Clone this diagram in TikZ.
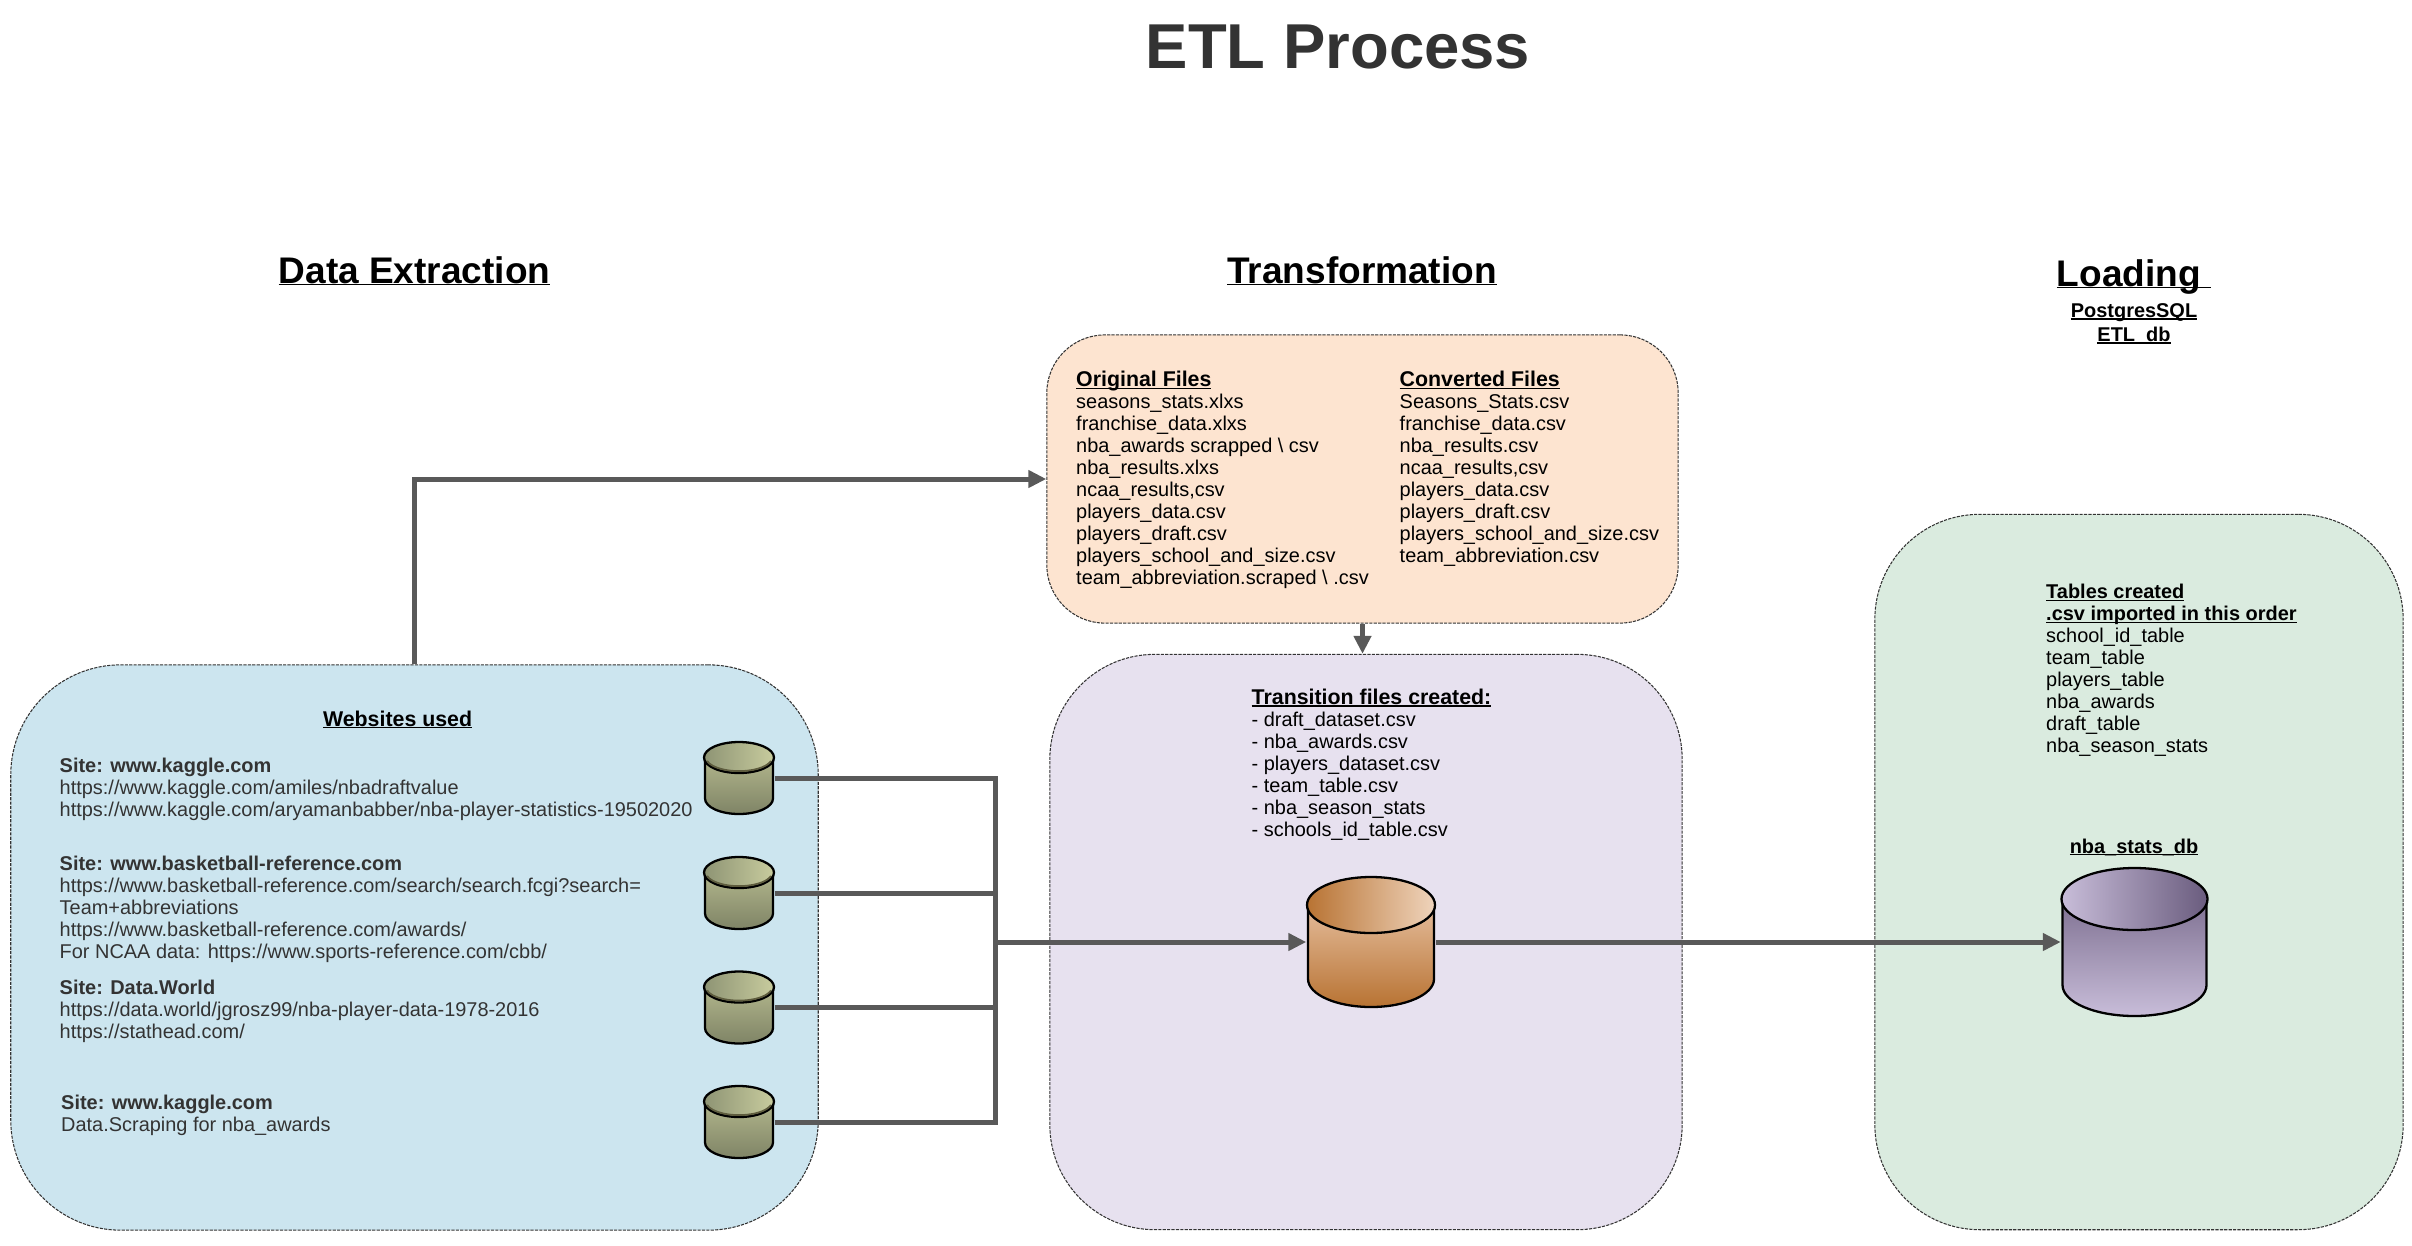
\documentclass[tikz,border=0pt]{standalone}
\usepackage{fontspec}
\setmainfont{Liberation Sans}
\usetikzlibrary{arrows.meta}
\newcommand{\ubar}[1]{\setbox0=\hbox{#1}\rlap{\rule[-.7pt]{\wd0}{.42pt}}\box0}
\definecolor{wirecol}{HTML}{595959}
\definecolor{inkcol}{HTML}{333333}
\definecolor{skyfill}{HTML}{CCE5EF}
\definecolor{peachfill}{HTML}{FDE4D0}
\definecolor{lilacfill}{HTML}{E7E1EF}
\definecolor{mintfill}{HTML}{DAEBDF}
\definecolor{olivedk}{HTML}{8E9474}\definecolor{olivelt}{HTML}{C8CC9E}
\definecolor{olivemd}{HTML}{B2B68C}\definecolor{olivebt}{HTML}{7F8466}
\definecolor{olivesh}{HTML}{5E5C3E}
\definecolor{copperdk}{HTML}{B87333}\definecolor{copperlt}{HTML}{EFD4BC}
\definecolor{coppermd}{HTML}{E4BC9B}
\definecolor{plumdk}{HTML}{6A5C7E}\definecolor{plumlt}{HTML}{C8BDD9}
\definecolor{plummd}{HTML}{7F7192}
\tikzset{
  wire/.style={draw=wirecol,line width=.05cm},
  arrowwire/.style={wire,-{Triangle[length=.18cm,width=.17cm]}},
  panel/.style={draw=black!80,line width=.3pt,dash pattern=on .9pt off .35pt,rectangle,inner sep=0pt},
  body/.style={inner sep=0pt,anchor=north west,align=left,font=\fontsize{5.67}{6.26}\selectfont},
  heading/.style={inner sep=0pt,anchor=base,font=\fontsize{10.53}{12}\selectfont\bfseries},
  subhead/.style={inner sep=0pt,anchor=base,font=\fontsize{5.67}{6.26}\selectfont\bfseries},
  boxhead/.style={inner sep=0pt,anchor=base,font=\fontsize{6.07}{6.6}\selectfont\bfseries},
  olivetop/.style={left color=olivedk,right color=olivelt},
  olivebody/.style={top color=olivemd,bottom color=olivebt},
  coppertop/.style={left color=copperdk,right color=copperlt},
  copperbody/.style={top color=coppermd,bottom color=copperdk},
  plumtop/.style={left color=plumlt,right color=plumdk},
  plumbody/.style={top color=plummd,bottom color=plumlt},
}
\newcommand{\hd}[1]{{\fontsize{6.07}{6.26}\selectfont\bfseries\ubar{#1}}}
% name, cx, cy, rx, ry, half height, top shade, body shade
\newcommand{\dbcyl}[8]{%
  \node[minimum width=#4*.02cm,minimum height=#6*.02cm,inner sep=0pt] (#1) at (#2,#3) {};
  \fill[#8] (#2-#4+1,#3+#6-#5) -- (#2-#4+1,#3-#6+#5)
    arc[start angle=180,end angle=360,x radius=#4-1,y radius=#5] -- (#2+#4-1,#3+#6-#5) -- cycle;
  \draw[line width=.65pt] (#2-#4+1,#3+#6-#5) -- (#2-#4+1,#3-#6+#5)
    arc[start angle=180,end angle=360,x radius=#4-1,y radius=#5] -- (#2+#4-1,#3+#6-#5);
  \draw[line width=.65pt,#7] (#2,#3+#6-#5) ellipse[x radius=#4,y radius=#5];
}
\begin{document}
\begin{tikzpicture}[x=.01cm,y=.01cm]
\useasboundingbox (0,0) rectangle (2412,-1245);
\node[inner sep=0pt,anchor=base,text=inkcol,font=\fontsize{18.04}{20}\selectfont\bfseries] (title) at (1338,-68) {ETL Process};
\node[heading] (extract) at (414.5,-283) {\ubar{Data Extraction}};
\node[heading] (transform) at (1362,-283) {\ubar{Transformation}};
\node[heading] (load) at (2134,-286) {\ubar{Loading\ }};
\node[subhead] (pg) at (2134,-317.5) {\ubar{PostgresSQL}};
\node[subhead] (etldb) at (2134,-341.5) {\ubar{ETL\_db}};
% panels
\node[panel,fill=skyfill,rounded corners=1.1cm,minimum width=8.07cm,minimum height=5.65cm] (sites) at (414.5,-947.5) {};
\node[panel,fill=peachfill,rounded corners=.58cm,minimum width=6.31cm,minimum height=2.88cm] (files) at (1362.5,-479) {};
\node[panel,fill=lilacfill,rounded corners=1.05cm,minimum width=6.32cm,minimum height=5.75cm] (transition) at (1366,-942) {};
\node[panel,fill=mintfill,rounded corners=1.05cm,minimum width=5.28cm,minimum height=7.15cm] (tables) at (2139,-872) {};
% left panel text
\node[boxhead] (sitehead) at (397.6,-726) {\ubar{Websites used}};
\node[body,text=inkcol] (site1) at (59,-757) {\textbf{Site: www.kaggle.com}\\https://www.kaggle.com/amiles/nbadraftvalue\\https://www.kaggle.com/aryamanbabber/nba-player-statistics-19502020};
\node[body,text=inkcol] (site2) at (59,-855) {\textbf{Site: www.basketball-reference.com}\\https://www.basketball-reference.com/search/search.fcgi?search=\\Team+abbreviations\\https://www.basketball-reference.com/awards/\\For NCAA data: https://www.sports-reference.com/cbb/};
\node[body,text=inkcol] (site3) at (59,-979) {\textbf{Site: Data.World}\\https://data.world/jgrosz99/nba-player-data-1978-2016\\https://stathead.com/};
\node[body,text=inkcol] (site4) at (60.5,-1094) {\textbf{Site: www.kaggle.com}\\Data.Scraping for nba\_awards};
% orange panel text
\node[body] (orig) at (1075.5,-370.5) {\hd{Original Files}\\seasons\_stats.xlxs\\franchise\_data.xlxs\\nba\_awards scrapped \textbackslash{} csv\\nba\_results.xlxs\\ncaa\_results,csv\\players\_data.csv\\players\_draft.csv\\players\_school\_and\_size.csv\\team\_abbreviation.scraped \textbackslash{} .csv};
\node[body] (conv) at (1399,-370.5) {\hd{Converted Files}\\Seasons\_Stats.csv\\franchise\_data.csv\\nba\_results.csv\\ncaa\_results,csv\\players\_data.csv\\players\_draft.csv\\players\_school\_and\_size.csv\\team\_abbreviation.csv};
\node[body] (made) at (1251,-688) {\hd{Transition files created:}\\- draft\_dataset.csv\\- nba\_awards.csv\\- players\_dataset.csv\\- team\_table.csv\\- nba\_season\_stats\\- schools\_id\_table.csv};
\node[body] (order) at (2045.5,-583.5) {\textbf{\ubar{Tables created}}\\\textbf{\ubar{.csv imported in this order}}\\school\_id\_table\\team\_table\\players\_table\\nba\_awards\\draft\_table\\nba\_season\_stats};
\node[subhead] (dbname) at (2134,-853) {\ubar{nba\_stats\_db}};
% cylinders, wires after
\foreach \n/\y in {src1/-778,src2/-893,src3/-1007.5,src4/-1122}{
  \dbcyl{\n}{739}{\y}{35}{15.5}{36}{olivetop}{olivebody}
  \draw[olivesh,line width=.5pt] (739,\y+20.5) ++(195:33 and 13.6) arc[start angle=195,end angle=345,x radius=33,y radius=13.6];
}
\dbcyl{staging}{1371}{-942}{64}{28}{65}{coppertop}{copperbody}
\dbcyl{nbadb}{2134.5}{-942}{73}{31}{74}{plumtop}{plumbody}
\coordinate (junction) at (995.5,-942);
\draw[arrowwire] (sites.north) |- (files.west);
\draw[arrowwire] (files.south) -- (files.south |- transition.north);
\foreach \s in {src1,src2,src3,src4}
  \draw[wire] (\s.east) -| (junction);
\draw[arrowwire] (junction) -- (staging.west);
\draw[arrowwire] (staging.east) -- (nbadb.west);
\end{tikzpicture}
\end{document}
